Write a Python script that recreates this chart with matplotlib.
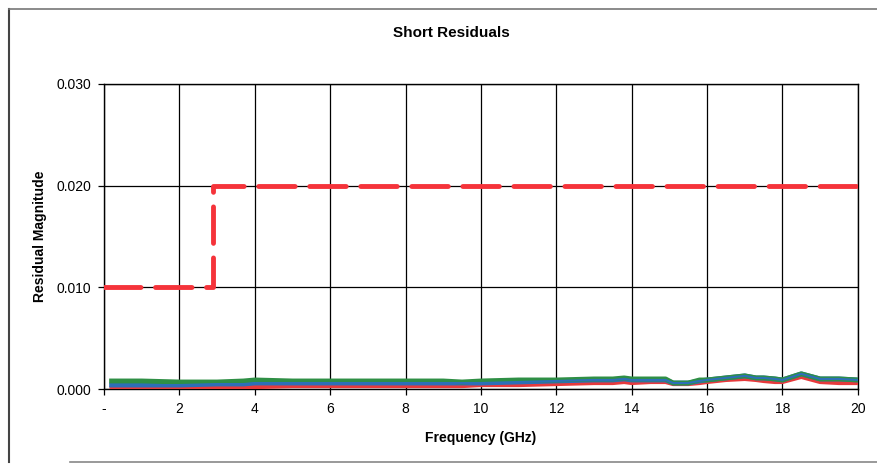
import matplotlib.pyplot as plt
from matplotlib.lines import Line2D

plt.rcParams['font.family'] = ['Liberation Sans', 'DejaVu Sans']

# residual traces (GHz, magnitude)
freq = [0.2, 1, 2, 3, 3.7, 4, 5, 6, 7, 8, 9, 9.5, 10, 11, 12, 13, 13.5, 13.8, 14,
        14.5, 14.9, 15.1, 15.5, 15.8, 16, 16.5, 17, 17.3, 17.5, 17.8, 18, 18.5,
        19, 19.5, 20]
green = [0.0008, 0.0008, 0.0007, 0.0007, 0.0008, 0.0009, 0.0008, 0.0008, 0.0008,
         0.0008, 0.0008, 0.0007, 0.0008, 0.0009, 0.0009, 0.0010, 0.0010, 0.0011,
         0.0010, 0.0010, 0.0010, 0.0006, 0.0006, 0.0009, 0.0009, 0.0011, 0.0013,
         0.0011, 0.0011, 0.0010, 0.0009, 0.0015, 0.0010, 0.0010, 0.0009]
blue = [0.0004, 0.0004, 0.0004, 0.0005, 0.0005, 0.0006, 0.0006, 0.0006, 0.0006,
        0.0006, 0.0006, 0.0006, 0.0006, 0.0007, 0.0008, 0.0009, 0.0009, 0.0010,
        0.0009, 0.0009, 0.0009, 0.0006, 0.0006, 0.0008, 0.0009, 0.0011, 0.0013,
        0.0011, 0.0011, 0.0010, 0.0009, 0.0015, 0.0010, 0.0010, 0.0009]
red = [0.0001, 0.0001, 0.0001, 0.0002, 0.0002, 0.0002, 0.0003, 0.0003, 0.0003,
       0.0003, 0.0003, 0.0003, 0.0004, 0.0004, 0.0005, 0.0006, 0.0006, 0.0007,
       0.0006, 0.0007, 0.0007, 0.0005, 0.0005, 0.0006, 0.0007, 0.0009, 0.0010,
       0.0009, 0.0008, 0.0007, 0.0007, 0.0012, 0.0007, 0.0006, 0.0006]

# limit line
limit_freq = [0, 2.9, 2.9, 20]
limit_val = [0.010, 0.010, 0.020, 0.020]

xticks = [0, 2, 4, 6, 8, 10, 12, 14, 16, 18, 20]
xticklabels = ['-', '2', '4', '6', '8', '10', '12', '14', '16', '18', '20']
yticks = [0.0, 0.010, 0.020, 0.030]

fig = plt.figure(figsize=(8.78, 4.66), dpi=100)
ax = fig.add_axes([0.1185, 0.165, 0.8585, 0.655])

ax.plot(freq, red, color='#e63a3c', lw=3, solid_joinstyle='round', zorder=3)
ax.plot(freq, blue, color='#2d6fb8', lw=3.5, solid_joinstyle='round', zorder=4)
ax.plot(freq, green, color='#2f8f45', lw=3.5, solid_joinstyle='round', zorder=5)
ax.plot(freq, blue, color='#2d6fb8', lw=1.5, zorder=6)
ax.plot(limit_freq, limit_val, color='#f5333a', lw=3.5, dashes=(7.5, 3),
        dash_capstyle='round', zorder=7)

ax.set_xlim(0, 20)
ax.set_ylim(0, 0.030)
ax.set_xticks(xticks)
ax.set_xticklabels(xticklabels)
ax.set_yticks(yticks)
ax.set_yticklabels(['%.3f' % v for v in yticks])
ax.grid(True, color='black', lw=0.9)
ax.set_axisbelow(True)
ax.tick_params(direction='out', length=4, width=0.9, labelsize=10, pad=5)
for s in ax.spines.values():
    s.set_linewidth(1.0)
    s.set_color('black')

ax.set_xlabel('Frequency (GHz)', fontsize=10, fontweight='bold', labelpad=11)
ax.set_ylabel('Residual Magnitude', fontsize=10, fontweight='bold', labelpad=7)
fig.text(0.514, 0.929, 'Short Residuals', ha='center', va='center',
         fontsize=11, fontweight='bold')

# chart area frame
W, H = 878, 466
fig.add_artist(Line2D([9 / W, 9 / W], [1 - 9 / H, 1 - 462 / H], color='#444444', lw=1.5))
fig.add_artist(Line2D([9 / W, 1], [1 - 9 / H, 1 - 9 / H], color='#777777', lw=1.2))
fig.add_artist(Line2D([70 / W, 1], [1 - 462 / H, 1 - 462 / H], color='#888888', lw=1.2))

fig.savefig('out.png', dpi=100)
